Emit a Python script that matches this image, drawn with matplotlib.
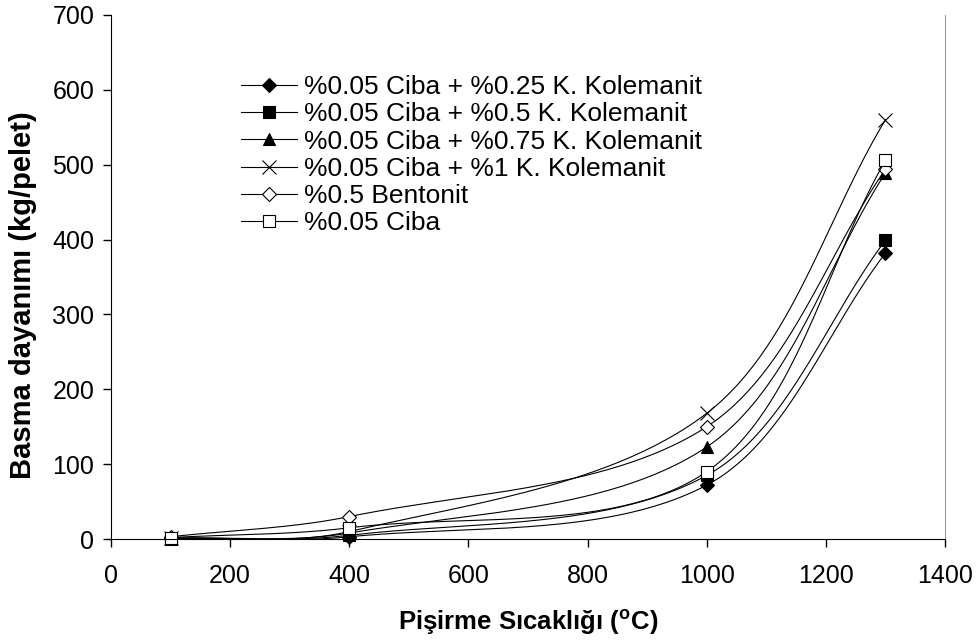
import numpy as np
import matplotlib
matplotlib.use("Agg")
import matplotlib.pyplot as plt
from matplotlib.lines import Line2D

plt.rcParams['font.family'] = ['Liberation Sans', 'DejaVu Sans']
plt.rcParams['mathtext.fontset'] = 'custom'
plt.rcParams['mathtext.rm'] = 'Liberation Sans'
plt.rcParams['mathtext.bf'] = 'Liberation Sans:bold'

temps = [100, 400, 1000, 1300]

labels = [
    '%0.05 Ciba + %0.25 K. Kolemanit',
    '%0.05 Ciba + %0.5 K. Kolemanit',
    '%0.05 Ciba + %0.75 K. Kolemanit',
    '%0.05 Ciba + %1 K. Kolemanit',
    '%0.5 Bentonit',
    '%0.05 Ciba',
]
kolemanit_025 = [1, 3, 72, 382]
kolemanit_05 = [0, 5, 85, 399]
kolemanit_075 = [1, 8, 123, 489]
kolemanit_1 = [1, 10, 168, 560]
bentonit = [3, 30, 150, 494]
ciba = [2, 15, 90, 506]
series = [kolemanit_025, kolemanit_05, kolemanit_075, kolemanit_1, bentonit, ciba]

markers = ['D', 's', '^', 'x', 'D', 's']
fills = ['black', 'black', 'black', 'black', 'white', 'white']
msizes = [7, 8, 8, 10, 7, 8]

# pixel scale of the plot area, used so the smoothing works in screen space
XS, YS = 0.596, 0.7486


def smooth(xs, ys, n=60):
    # Excel-like smoothed line: cubic bezier, control points scaled by segment length
    p = np.column_stack([np.array(xs) * XS, np.array(ys) * YS]).astype(float)
    m = len(p)
    d = [np.hypot(*(p[i + 1] - p[i])) for i in range(m - 1)]
    out = []
    for i in range(m - 1):
        p1, p2 = p[i], p[i + 1]
        if i == 0:
            c1 = p1 + (p2 - p1) / 3
        else:
            tan = p2 - p[i - 1]
            c1 = p1 + tan * d[i] / (d[i - 1] + d[i]) / 3
        if i + 2 >= m:
            c2 = p2 - (p2 - p1) / 3
        else:
            tan = p[i + 2] - p1
            c2 = p2 - tan * d[i] / (d[i] + d[i + 1]) / 3
        t = np.linspace(0, 1, n)[:, None]
        seg = (1 - t) ** 3 * p1 + 3 * (1 - t) ** 2 * t * c1 + 3 * (1 - t) * t ** 2 * c2 + t ** 3 * p2
        out.append(seg if i == 0 else seg[1:])
    out = np.vstack(out)
    return out[:, 0] / XS, out[:, 1] / YS


fig = plt.figure(figsize=(9.78, 6.43), dpi=100)
ax = fig.add_axes([0.1135, 0.1617, 0.8528, 0.815])

handles = []
for vals, lab, m, fc, ms in zip(series, labels, markers, fills, msizes):
    sx, sy = smooth(temps, vals)
    ax.plot(sx, sy, color='black', lw=0.8)
    ax.plot(temps, vals, linestyle='none', marker=m, markersize=ms,
            markerfacecolor=fc, markeredgecolor='black', markeredgewidth=0.8,
            clip_on=False)
    handles.append(Line2D([], [], color='black', lw=0.8, marker=m, markersize=ms,
                          markerfacecolor=fc, markeredgecolor='black',
                          markeredgewidth=0.8, label=lab))

ax.set_xlim(0, 1400)
ax.set_ylim(0, 700)
ax.set_xticks(np.arange(0, 1401, 200))
ax.set_yticks(np.arange(0, 701, 100))
ax.spines['top'].set_visible(False)
ax.spines['right'].set_color('#999999')
ax.spines['right'].set_linewidth(0.8)
ax.tick_params(direction='out', length=6, width=1, labelsize=18)
ax.tick_params(axis='x', pad=12)
ax.tick_params(axis='y', pad=6)

ax.set_xlabel('Pişirme Sıcaklığı ($^{\\mathbf{o}}$C)', fontsize=18.5,
              fontweight='bold')
ax.xaxis.set_label_coords(0.5, -0.13)
ax.set_ylabel('Basma dayanımı (kg/pelet)', fontsize=21,
              fontweight='bold')
ax.yaxis.set_label_coords(-0.089, 0.466)

ax.legend(handles=handles, loc='upper left', bbox_to_anchor=(0.156, 0.885),
          frameon=False, fontsize=19, handlelength=2.1, handletextpad=0.27,
          labelspacing=0.12, borderaxespad=0, borderpad=0)

fig.savefig('out.png', dpi=100)
